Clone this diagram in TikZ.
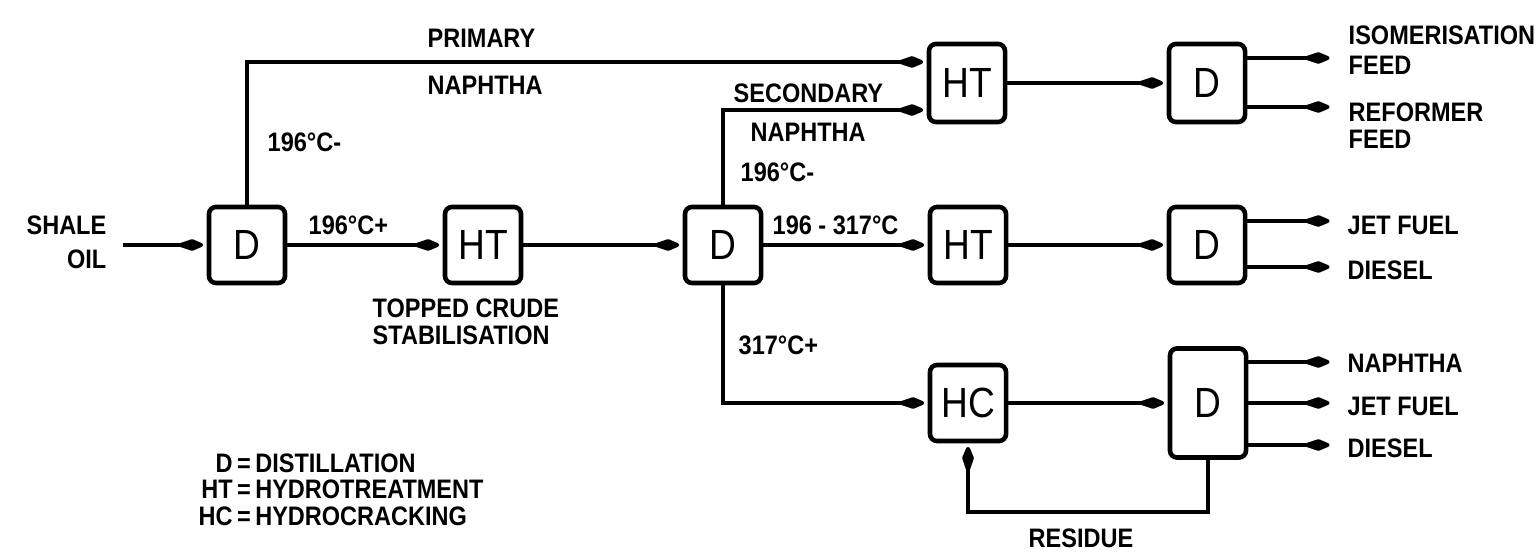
\documentclass[tikz,border=0pt]{standalone}
\usepackage{fontspec}
\setmainfont{Liberation Sans}[FakeStretch=0.88]
\usetikzlibrary{arrows.meta}

\begin{document}
\begin{tikzpicture}[x=0.01cm, y=-0.01cm,
    unit/.style={draw, line width=1.3pt, rounded corners=2pt,
                 minimum width=0.76cm, minimum height=0.76cm,
                 inner sep=0pt, font=\fontsize{12}{13}\selectfont},
    flow/.style={draw, line width=1.1pt, shorten >=1pt,
                 -{Kite[length=9pt, width=3.4pt, inset=5pt, round]}},
    tag/.style={font=\fontsize{7.6}{7.6}\selectfont\bfseries, inner sep=0pt},
]
\useasboundingbox (0,0) rectangle (1540,552);

% Distillation and stabilisation of the crude
\node[unit] (d1) at (247,245) {D};
\node[unit] (ht0) at (483,245) {HT};
\node[unit] (d2) at (723,245) {D};

% Hydrotreaters and hydrocracker
\node[unit, minimum height=0.78cm] (ht1) at (967,83) {HT};
\node[unit] (ht2) at (968,245) {HT};
\node[unit] (hc) at (968,403) {HC};

% Product distillation
\node[unit, minimum height=0.78cm] (d3) at (1207,83) {D};
\node[unit] (d4) at (1207,245) {D};
\node[unit, minimum height=1.09cm] (d5) at (1208,403) {D};

% Product ends
\coordinate (feed) at (123,245);
\coordinate (iso) at (1333,58);
\coordinate (ref) at (1333,107);
\coordinate (jet1) at (1333,221);
\coordinate (dsl1) at (1333,267);
\coordinate (nap) at (1333,362);
\coordinate (jet2) at (1333,403);
\coordinate (dsl2) at (1333,445);

% Streams
\draw[flow] (feed) -- (d1);
\draw[flow] (d1) -- (ht0);
\draw[flow] (ht0) -- (d2);
\draw[flow] (d1.north) |- ([yshift=0.21cm]ht1.west);
\draw[flow] (d2.north) |- ([yshift=-0.27cm]ht1.west);
\draw[flow] (d2) -- (ht2);
\draw[flow] (d2.south) |- (hc);
\draw[flow] (ht1) -- (d3);
\draw[flow] (ht2) -- (d4);
\draw[flow] (hc) -- (d5);
\draw[flow] (d5.south) -- ++(0,52) -| (hc.south);
\foreach \src/\dst in {d3/iso, d3/ref, d4/jet1, d4/dsl1, d5/nap, d5/jet2, d5/dsl2}
    \draw[flow] (\src.east |- \dst) -- (\dst);

% Stream labels
\node[tag, anchor=north east, align=right] (shale) at (107,215) {SHALE\\[2pt]OIL};
\node[tag, anchor=base west] (prim) at (427,48) {PRIMARY};
\node[tag, anchor=base west] (primnap) at (427,95) {NAPHTHA};
\node[tag, anchor=base west] (cut1) at (267,152) {196°C-};
\node[tag, anchor=base west] (cut2) at (308,235) {196°C+};
\node[tag, anchor=north west, align=left] (topped) at (372,298) {TOPPED CRUDE\\STABILISATION};
\node[tag, anchor=base west] (sec) at (733,103) {SECONDARY};
\node[tag, anchor=base west] (secnap) at (750,142) {NAPHTHA};
\node[tag, anchor=base west] (cut3) at (740,182) {196°C-};
\node[tag, anchor=base west] (cut4) at (772,235) {196 - 317°C};
\node[tag, anchor=base west] (cut5) at (738,355) {317°C+};
\node[tag, anchor=base] (resid) at (1081,547) {RESIDUE};

% Products
\node[tag, anchor=north west, align=left] (isolab) at (1348,25) {ISOMERISATION\\[1pt]FEED};
\node[tag, anchor=north west, align=left] (reflab) at (1348,102) {REFORMER\\FEED};
\node[tag, anchor=base west] (jetlab1) at (1347,235) {JET FUEL};
\node[tag, anchor=base west] (dsllab1) at (1347,280) {DIESEL};
\node[tag, anchor=base west] (naplab) at (1347,373) {NAPHTHA};
\node[tag, anchor=base west] (jetlab2) at (1347,415) {JET FUEL};
\node[tag, anchor=base west] (dsllab2) at (1347,457) {DIESEL};

% Key
\node[tag, anchor=base west] (key) at (198,472) {%
    \begin{tabular}[t]{@{}r@{\,=\,}l@{}}
    D & DISTILLATION\\
    HT & HYDROTREATMENT\\
    HC & HYDROCRACKING
    \end{tabular}};

\end{tikzpicture}
\end{document}
